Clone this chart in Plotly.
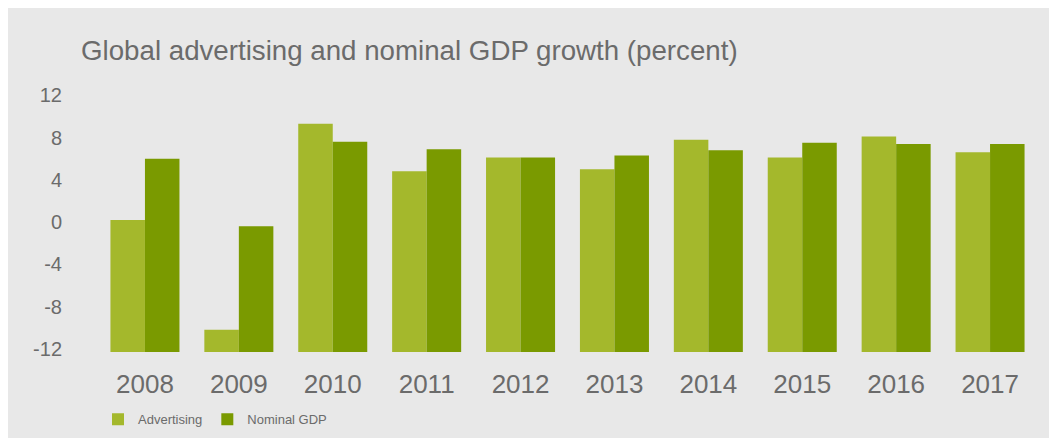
import plotly.graph_objects as go

years = ["2008", "2009", "2010", "2011", "2012", "2013", "2014", "2015", "2016", "2017"]
advertising = [0.2, -10.2, 9.3, 4.8, 6.1, 5.0, 7.8, 6.1, 8.1, 6.6]
nominal_gdp = [6.0, -0.4, 7.6, 6.9, 6.1, 6.3, 6.8, 7.5, 7.4, 7.4]
y_ticks = [12, 8, 4, 0, -4, -8, -12]
axis_floor = -12.3
axis_top = 12.5

ADV_COLOR = "#a4b82c"
GDP_COLOR = "#7a9a00"
BG = "#e8e8e8"
TXT = "#6b6b6b"

fig = go.Figure()
fig.add_trace(go.Bar(name="Advertising", x=years,
                     y=[v - axis_floor for v in advertising], base=axis_floor,
                     marker=dict(color=ADV_COLOR, line=dict(width=0))))
fig.add_trace(go.Bar(name="Nominal GDP", x=years,
                     y=[v - axis_floor for v in nominal_gdp], base=axis_floor,
                     marker=dict(color=GDP_COLOR, line=dict(width=0))))

L, R, T, B = 90, 28, 82, 91
W, H = 1057, 438
pw, ph = W - L - R, H - T - B

fig.update_layout(
    width=W, height=H,
    margin=dict(l=L, r=R, t=T, b=B),
    paper_bgcolor=BG,
    plot_bgcolor=BG,
    barmode="group", bargap=0.265, bargroupgap=0,
    font=dict(family="Liberation Sans, Arial, sans-serif", color=TXT),
    title=dict(text="Global advertising and nominal GDP growth (percent)",
               x=73 / W, xanchor="left", xref="container",
               y=1 - 42 / H, yanchor="middle", yref="container",
               font=dict(size=27.7, color=TXT)),
    xaxis=dict(showgrid=False, zeroline=False, showline=False,
               ticks="outside", ticklen=9, tickcolor="rgba(0,0,0,0)",
               tickfont=dict(size=26, color=TXT)),
    yaxis=dict(range=[axis_floor, axis_top], tickvals=y_ticks,
               ticktext=[str(v) for v in y_ticks],
               showgrid=False, zeroline=False, showline=False,
               ticks="outside", ticklen=31, tickcolor="rgba(0,0,0,0)",
               tickfont=dict(size=20, color=TXT)),
    legend=dict(orientation="h", x=0, xanchor="left",
                y=-(415 - (H - B)) / ph, yanchor="middle",
                font=dict(size=13, color=TXT), bgcolor="rgba(0,0,0,0)",
                traceorder="normal"),
)

fig.write_html("out.html")
